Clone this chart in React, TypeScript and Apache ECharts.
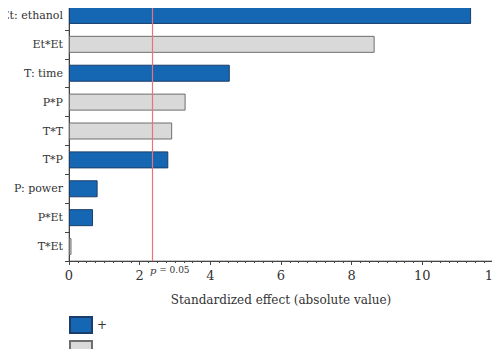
import React, { useEffect, useRef } from "react";
import * as echarts from "echarts";

const categories = ["Et: ethanol", "Et*Et", "T: time", "P*P", "T*T", "T*P", "P: power", "P*Et", "T*Et"];
const effects = [11.38, 8.65, 4.55, 3.3, 2.92, 2.81, 0.81, 0.68, 0.07];
const signs = ["+", "–", "+", "–", "–", "+", "+", "+", "–"];
const threshold = 2.37;
const xTicks = [0, 2, 4, 6, 8, 10, 12];

const positive = effects.map((v, i) => (signs[i] === "+" ? v : null));
const negative = effects.map((v, i) => (signs[i] === "–" ? v : null));

const SERIF = "DejaVu Serif";

export default function App() {
  const ref = useRef<HTMLDivElement>(null);
  useEffect(() => {
    const chart = echarts.init(ref.current!, null, { renderer: "svg" });
    chart.setOption({
      animation: false,
      grid: {
        left: 69,
        right: 7,
        top: 1,
        bottom: 96,
        show: true,
        borderColor: "#8a8a8a",
        borderWidth: 1,
        outerBoundsMode: "none",
        containLabel: false,
      },
      legend: [
        {
          left: 69,
          top: 316,
          padding: 0,
          icon: "rect",
          itemWidth: 22,
          itemHeight: 16,
          textStyle: { fontFamily: SERIF, fontSize: 12, color: "#333" },
          data: ["+"],
        },
        {
          left: 69,
          top: 340,
          padding: 0,
          icon: "rect",
          itemWidth: 22,
          itemHeight: 16,
          textStyle: { fontFamily: SERIF, fontSize: 12, color: "#333" },
          data: ["–"],
        },
      ],
      xAxis: {
        type: "value",
        min: 0,
        max: 12,
        interval: 2,
        axisLine: { show: true, lineStyle: { color: "#444" } },
        axisTick: { show: true, length: 4, lineStyle: { color: "#444" } },
        minorTick: { show: true, splitNumber: 8, length: 2, lineStyle: { color: "#444" } },
        splitLine: { show: false },
        axisLabel: {
          fontFamily: SERIF,
          fontSize: 13,
          color: "#333",
          margin: 8,
          formatter: (v: number) => (xTicks.includes(v) ? String(v) : ""),
        },
        name: "Standardized effect (absolute value)",
        nameLocation: "middle",
        nameGap: 33,
        nameTextStyle: { fontFamily: SERIF, fontSize: 12, color: "#333" },
      },
      yAxis: {
        type: "category",
        data: categories,
        inverse: true,
        axisLine: { show: true, lineStyle: { color: "#444" } },
        axisTick: { show: true, length: 4, lineStyle: { color: "#444" } },
        axisLabel: { fontFamily: SERIF, fontSize: 11, color: "#333", margin: 6 },
      },
      series: [
        {
          name: "+",
          type: "bar",
          stack: "s",
          data: positive,
          barWidth: 17,
          itemStyle: { color: "#1567b3", borderColor: "#1c3d6a", borderWidth: 1 },
          markLine: {
            symbol: "none",
            silent: true,
            lineStyle: { color: "#e8747a", width: 1.2, type: "solid" },
            label: {
              show: true,
              position: "end",
              distance: 4,
              offset: [17, 0],
              formatter: "{i|p} = 0.05",
              rich: {
                i: { fontStyle: "italic", fontFamily: SERIF, fontSize: 10, color: "#333" },
              },
              fontFamily: SERIF,
              fontSize: 9,
              color: "#333",
            },
            data: [{ xAxis: threshold }],
          },
        },
        {
          name: "–",
          type: "bar",
          stack: "s",
          data: negative,
          barWidth: 17,
          itemStyle: { color: "#d9d9d9", borderColor: "#6e6e6e", borderWidth: 1 },
        },
      ],
    });
    return () => chart.dispose();
  }, []);
  return <div ref={ref} style={{ width: 500, height: 357, margin: -8 }} />;
}
